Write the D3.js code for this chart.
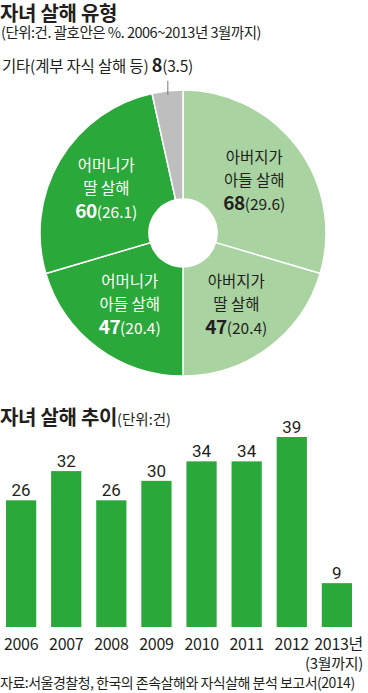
<!DOCTYPE html>
<html><head><meta charset="utf-8">
<script src="https://cdn.jsdelivr.net/npm/d3@7/dist/d3.min.js"></script>
<style>
body{margin:0;background:#fff;}
svg{display:block;font-family:"Noto Sans CJK KR","Noto Sans",sans-serif;}
</style></head>
<body>
<svg id="c" width="368" height="693"></svg>
<script>
// ---- data ----
const pieLabels1 = ["아버지가","아버지가","어머니가","어머니가","기타(계부 자식 살해 등)"];
const pieLabels2 = ["아들 살해","딸 살해","아들 살해","딸 살해",""];
const pieValues = [68,47,47,60,8];
const piePercents = ["29.6","20.4","20.4","26.1","3.5"];
const pieColors = ["#a9d3a0","#a9d3a0","#2aa83a","#2aa83a","#bebebe"];
const pieTextColors = ["#231f20","#231f20","#ffffff","#ffffff","#231f20"];

const years = ["2006","2007","2008","2009","2010","2011","2012","2013년"];
const yearSub = ["","","","","","","","(3월까지)"];
const counts = [26,32,26,30,34,34,39,9];

const svg = d3.select("#c");
const ink = "#231f20";

// ---- titles ----
svg.append("text").attr("x",0).attr("y",21).attr("font-size",20).attr("font-weight",700)
  .attr("fill",ink).attr("letter-spacing",-0.3).text("자녀 살해 유형");
svg.append("text").attr("x",1).attr("y",38).attr("font-size",14.5).attr("fill",ink)
  .attr("letter-spacing",-0.5).text("(단위:건. 괄호안은 %. 2006~2013년 3월까지)");

// ---- donut ----
const cx = 183, cy = 233, R = 143, r0 = 34;
const pie = d3.pie().sort(null).value(d=>d)(pieValues);
const arc = d3.arc().innerRadius(r0).outerRadius(R);
const labelArc = d3.arc().innerRadius(89).outerRadius(89);
const g = svg.append("g").attr("transform",`translate(${cx},${cy})`);
g.selectAll("path").data(pie).join("path")
  .attr("d",arc).attr("fill",(d,i)=>pieColors[i])
  .attr("stroke","#fff").attr("stroke-width",1.5);

pie.forEach((d,i)=>{
  if(i===4) return;
  const [lx,ly] = labelArc.centroid(d);
  const t = g.append("g").attr("transform",`translate(${lx},${ly})`)
    .attr("fill",pieTextColors[i]).attr("text-anchor","middle");
  t.append("text").attr("y",-17).attr("font-size",15.5).text(pieLabels1[i]);
  t.append("text").attr("y",6).attr("font-size",15.5).text(pieLabels2[i]);
  const v = t.append("text").attr("y",30).attr("font-size",15.5);
  v.append("tspan").attr("font-size",19).attr("font-weight",700).attr("letter-spacing",-0.5).text(pieValues[i]);
  v.append("tspan").text("("+piePercents[i]+")");
});

// "other" label with leader line
const o = pie[4];
const oa = (o.startAngle+o.endAngle)/2;
const lxo = Math.sin(oa)*(R-4), lyo = -Math.cos(oa)*(R-4);
g.append("line").attr("x1",lxo).attr("y1",lyo).attr("x2",lxo).attr("y2",lyo-14)
  .attr("stroke","#777").attr("stroke-width",1);
const ot = svg.append("text").attr("x",2).attr("y",72).attr("font-size",15.5).attr("fill",ink)
  .attr("letter-spacing",-0.2);
ot.append("tspan").text(pieLabels1[4]+" ");
ot.append("tspan").attr("font-size",18).attr("font-weight",700).text(pieValues[4]);
ot.append("tspan").text("("+piePercents[4]+")");

// ---- bar chart ----
const t2 = svg.append("text").attr("x",0).attr("y",425).attr("fill",ink);
t2.append("tspan").attr("font-size",20).attr("font-weight",700).attr("letter-spacing",-0.3).text("자녀 살해 추이");
t2.append("tspan").attr("font-size",14.5).text("(단위:건)");

const base = 627;
const x = d3.scaleBand().domain(years).range([6,352]).paddingInner(0.33).paddingOuter(0);
const y = d3.scaleLinear().domain([0,39]).range([base, 437]);

svg.append("g").selectAll("rect").data(counts).join("rect")
  .attr("x",(d,i)=>x(years[i])).attr("width",x.bandwidth())
  .attr("y",d=>y(d)).attr("height",d=>base-y(d)).attr("fill","#2aa83a");

svg.append("g").selectAll("text").data(counts).join("text")
  .attr("x",(d,i)=>x(years[i])+x.bandwidth()/2).attr("y",d=>y(d)-4)
  .attr("text-anchor","middle").attr("font-size",17).attr("font-family","Roboto, 'Noto Sans', sans-serif")
  .attr("fill",ink).text(d=>d);

const xa = svg.append("g");
years.forEach((yr,i)=>{
  const last = i===years.length-1;
  const cxb = x(yr)+x.bandwidth()/2;
  xa.append("text").attr("x", last ? 363 : cxb).attr("y",650)
    .attr("text-anchor", last ? "end" : "middle").attr("font-size",16).attr("fill",ink)
    .attr("letter-spacing",-0.3).text(yr);
  if(yearSub[i]) xa.append("text").attr("x",363).attr("y",669).attr("text-anchor","end")
    .attr("font-size",15).attr("fill",ink).attr("letter-spacing",-0.3).text(yearSub[i]);
});

svg.append("text").attr("x",0).attr("y",688).attr("font-size",14).attr("fill",ink)
  .attr("letter-spacing",-0.5).text("자료:서울경찰청, 한국의 존속살해와 자식살해 분석 보고서(2014)");
</script>
</body></html>
